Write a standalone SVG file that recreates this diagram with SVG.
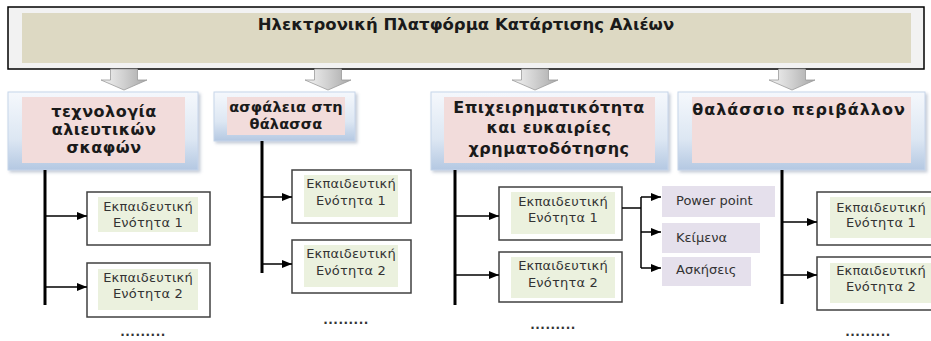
<svg xmlns="http://www.w3.org/2000/svg" width="931" height="341" viewBox="0 0 931 341">
<defs>
  <linearGradient id="catGrad" x1="0" y1="0" x2="0" y2="1">
    <stop offset="0" stop-color="#f5f8fc"/>
    <stop offset="0.6" stop-color="#dde7f3"/>
    <stop offset="1" stop-color="#b4c8e2"/>
  </linearGradient>
  <linearGradient id="blkGrad" x1="0" y1="0" x2="1" y2="0">
    <stop offset="0" stop-color="#f4f4f4"/>
    <stop offset="0.5" stop-color="#d0d0d0"/>
    <stop offset="1" stop-color="#a8a8a8"/>
  </linearGradient>
  <filter id="sh" x="-5%" y="-5%" width="115%" height="120%">
    <feDropShadow dx="2" dy="2" stdDeviation="1.5" flood-color="#7f8ea8" flood-opacity="0.45"/>
  </filter>
  <marker id="ah" markerWidth="10" markerHeight="8" refX="10" refY="4" orient="auto" markerUnits="userSpaceOnUse">
    <path d="M0,0 L10,4 L0,8 Z" fill="#000"/>
  </marker>
</defs>
<style>
  .t{font-family:"DejaVu Sans","Liberation Sans",sans-serif;fill:#1a1a1a}
  .hd{font-weight:bold;font-size:16px;text-anchor:middle;letter-spacing:0.5px}
  .hd2{font-weight:bold;font-size:14.5px;text-anchor:middle;letter-spacing:0.2px}
  .ttl{font-weight:bold;font-size:16.5px;text-anchor:middle}
  .sm{font-size:13px;text-anchor:middle;fill:#333;letter-spacing:0.2px}
  .pu{font-size:13px;fill:#333}
  .dots{font-size:12px;font-weight:bold;text-anchor:middle;fill:#333;letter-spacing:0.5px}
  .cat{fill:url(#catGrad);stroke:#c6d5ea;stroke-width:1;filter:url(#sh)}
  .pink{fill:#f2dcdb}
  .mod{fill:#fff;stroke:#404040;stroke-width:1.5}
  .grn{fill:#ebf1de}
  .pur{fill:#e5e0ec}
  .vl{stroke:#000;stroke-width:3;fill:none}
  .hl{stroke:#000;stroke-width:1.5;fill:none}
  .ar{stroke:#000;stroke-width:1.5;fill:none;marker-end:url(#ah)}
  .blk{fill:url(#blkGrad);stroke:#9a9a9a;stroke-width:0.8}
</style>

<g id="title">
  <rect x="8" y="7" width="916" height="62" fill="#f2f2f2" stroke="#000" stroke-width="1.5"/>
  <rect x="22" y="13" width="889" height="50" fill="#ddd9c3"/>
  <text class="t ttl" x="466" y="30">Ηλεκτρονική Πλατφόρμα Κατάρτισης Αλιέων</text>
</g>

<g id="cat1">
  <rect class="cat" x="8" y="92" width="190" height="78"/>
  <rect class="pink" x="22" y="97" width="163" height="66"/>
  <text class="t hd" x="104" y="117">τεχνολογία</text>
  <text class="t hd" x="104" y="135">αλιευτικών</text>
  <text class="t hd" x="104" y="153">σκαφών</text>
</g>
<g id="cat2">
  <rect class="cat" x="214" y="92" width="141" height="49"/>
  <rect class="pink" x="227" y="97" width="118" height="38"/>
  <text class="t hd2" x="286" y="112">ασφάλεια στη</text>
  <text class="t hd2" x="286" y="129">θάλασσα</text>
</g>
<g id="cat3">
  <rect class="cat" x="431" y="92" width="237" height="78"/>
  <rect class="pink" x="444" y="97" width="211" height="66"/>
  <text class="t hd" x="549" y="113">Επιχειρηματικότητα</text>
  <text class="t hd" x="549" y="133">και ευκαιρίες</text>
  <text class="t hd" x="549" y="154">χρηματοδότησης</text>
</g>
<g id="cat4">
  <rect class="cat" x="678" y="92" width="247" height="78"/>
  <rect class="pink" x="692" y="97" width="219" height="66"/>
  <text class="t hd" x="799" y="115" style="letter-spacing:1px">θαλάσσιο περιβάλλον</text>
</g>

<g id="m1a">
  <rect class="mod" x="87" y="192" width="123" height="53"/>
  <rect class="grn" x="98" y="197" width="100" height="35"/>
  <text class="t sm" x="148" y="211">Εκπαιδευτική</text>
  <text class="t sm" x="148" y="227">Ενότητα 1</text>
</g>
<g id="m1b">
  <rect class="mod" x="87" y="263" width="123" height="54"/>
  <rect class="grn" x="98" y="269" width="100" height="41"/>
  <text class="t sm" x="148" y="282">Εκπαιδευτική</text>
  <text class="t sm" x="148" y="298">Ενότητα 2</text>
</g>
<g id="m2a">
  <rect class="mod" x="292" y="170" width="119" height="53"/>
  <rect class="grn" x="304" y="175" width="94" height="42"/>
  <text class="t sm" x="351" y="188">Εκπαιδευτική</text>
  <text class="t sm" x="351" y="205">Ενότητα 1</text>
</g>
<g id="m2b">
  <rect class="mod" x="292" y="240" width="119" height="53"/>
  <rect class="grn" x="304" y="245" width="94" height="42"/>
  <text class="t sm" x="351" y="258">Εκπαιδευτική</text>
  <text class="t sm" x="351" y="275">Ενότητα 2</text>
</g>
<g id="m3a">
  <rect class="mod" x="499" y="187" width="123" height="53"/>
  <rect class="grn" x="511" y="192" width="104" height="42"/>
  <text class="t sm" x="563" y="206">Εκπαιδευτική</text>
  <text class="t sm" x="563" y="222">Ενότητα 1</text>
</g>
<g id="m3b">
  <rect class="mod" x="499" y="252" width="123" height="50"/>
  <rect class="grn" x="511" y="257" width="104" height="41"/>
  <text class="t sm" x="563" y="270">Εκπαιδευτική</text>
  <text class="t sm" x="563" y="287">Ενότητα 2</text>
</g>
<g id="m4a">
  <rect class="mod" x="817" y="192" width="120" height="53"/>
  <rect class="grn" x="830" y="197" width="101" height="41"/>
  <text class="t sm" x="881" y="212">Εκπαιδευτική</text>
  <text class="t sm" x="881" y="227">Ενότητα 1</text>
</g>
<g id="m4b">
  <rect class="mod" x="817" y="257" width="120" height="53"/>
  <rect class="grn" x="830" y="263" width="101" height="40"/>
  <text class="t sm" x="881" y="275">Εκπαιδευτική</text>
  <text class="t sm" x="881" y="291">Ενότητα 2</text>
</g>

<g id="pp">
  <rect class="pur" x="662" y="186" width="113" height="31"/>
  <text class="t pu" x="676" y="205">Power point</text>
</g>
<g id="keimena">
  <rect class="pur" x="662" y="223" width="98" height="30"/>
  <text class="t pu" x="676" y="242">Κείμενα</text>
</g>
<g id="askiseis">
  <rect class="pur" x="662" y="257" width="89" height="29"/>
  <text class="t pu" x="676" y="274">Ασκήσεις</text>
</g>

<g id="more">
  <text class="t dots" x="143" y="336">.........</text>
  <text class="t dots" x="346" y="324">.........</text>
  <text class="t dots" x="553" y="329">.........</text>
  <text class="t dots" x="868" y="336">.........</text>
</g>

<g id="connectors">
  <path class="blk" d="M110.5,69 h27 v11 h9.5 l-23,10 l-23,-10 h9.5 z"/>
  <path class="blk" d="M314.5,69 h27 v11 h9.5 l-23,10 l-23,-10 h9.5 z"/>
  <path class="blk" d="M521.5,69 h27 v11 h9.5 l-23,10 l-23,-10 h9.5 z"/>
  <path class="blk" d="M778.5,69 h27 v11 h9.5 l-23,10 l-23,-10 h9.5 z"/>

  <line class="vl" x1="45" y1="170" x2="45" y2="305"/>
  <line class="vl" x1="262" y1="141" x2="262" y2="273"/>
  <line class="vl" x1="455" y1="170" x2="455" y2="305"/>
  <line class="vl" x1="782" y1="170" x2="782" y2="304"/>

  <line class="ar" x1="46" y1="216" x2="87" y2="216"/>
  <line class="ar" x1="46" y1="287" x2="87" y2="287"/>
  <line class="ar" x1="263" y1="197" x2="292" y2="197"/>
  <line class="ar" x1="263" y1="264" x2="292" y2="264"/>
  <line class="ar" x1="456" y1="216" x2="499" y2="216"/>
  <line class="ar" x1="456" y1="275" x2="499" y2="275"/>
  <line class="ar" x1="783" y1="222" x2="817" y2="222"/>
  <line class="ar" x1="783" y1="275" x2="817" y2="275"/>

  <line class="hl" x1="622" y1="208" x2="641" y2="208"/>
  <line class="hl" x1="641" y1="197" x2="641" y2="268"/>
  <line class="ar" x1="641" y1="197" x2="661" y2="197"/>
  <line class="ar" x1="641" y1="232" x2="661" y2="232"/>
  <line class="ar" x1="641" y1="268" x2="661" y2="268"/>
</g>
</svg>
